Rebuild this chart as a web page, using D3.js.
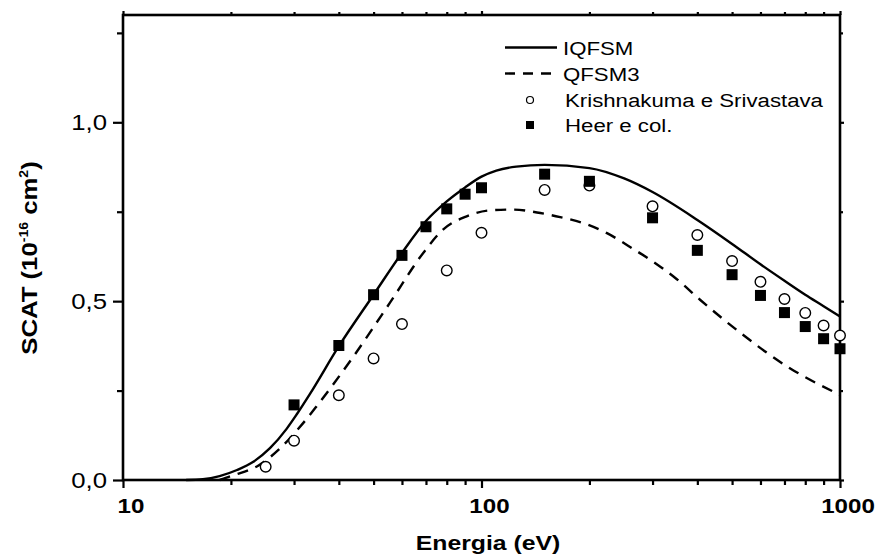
<!DOCTYPE html>
<html><head><meta charset="utf-8">
<script src="https://cdn.jsdelivr.net/npm/d3@7"></script>
<style>body{margin:0;background:#fff}svg{display:block}</style>
</head><body>
<script>
// ---- data ----
const iqfsmE = [15, 16.7, 18.6, 20.8, 23.1, 25.7, 28.6, 30.5, 33.2, 40, 50, 60, 70, 80, 90, 100, 110, 125, 150, 200, 250, 300, 400, 500, 600, 700, 800, 900, 1000];
const iqfsmV = [0, 0.002, 0.011, 0.028, 0.051, 0.089, 0.143, 0.183, 0.240, 0.374, 0.518, 0.635, 0.724, 0.779, 0.818, 0.848, 0.865, 0.876, 0.881, 0.872, 0.843, 0.805, 0.727, 0.660, 0.603, 0.557, 0.518, 0.486, 0.457];
const qfsm3E = [18.6, 20.3, 24, 27.4, 31.8, 34.6, 43.9, 55.5, 68.7, 78.1, 90.9, 105.9, 123, 142.8, 165.8, 192.7, 223.9, 265, 307.5, 350, 407, 528, 713, 1000];
const qfsm3V = [0, 0.013, 0.042, 0.088, 0.159, 0.205, 0.345, 0.495, 0.634, 0.700, 0.737, 0.754, 0.756, 0.748, 0.735, 0.718, 0.690, 0.646, 0.604, 0.562, 0.504, 0.411, 0.317, 0.238];
const krishE = [25, 30, 40, 50, 60, 80, 100, 150, 200, 300, 400, 500, 600, 700, 800, 900, 1000];
const krishV = [0.037, 0.11, 0.237, 0.34, 0.436, 0.586, 0.691, 0.811, 0.823, 0.765, 0.685, 0.612, 0.554, 0.506, 0.467, 0.432, 0.404];
const heerE = [30, 40, 50, 60, 70, 80, 90, 100, 150, 200, 300, 400, 500, 600, 700, 800, 900, 1000];
const heerV = [0.21, 0.376, 0.518, 0.628, 0.708, 0.758, 0.799, 0.817, 0.855, 0.835, 0.733, 0.642, 0.574, 0.516, 0.468, 0.429, 0.395, 0.367];
const xMajor = [10, 100, 1000];
const xMinor = [20,30,40,50,60,70,80,90,200,300,400,500,600,700,800,900];
const yMajor = [0, 0.5, 1.0];
const yMinor = [0.25, 0.75, 1.25];
const yLabels = ["0,0", "0,5", "1,0"];
const seriesNames = ["IQFSM", "QFSM3", "Krishnakuma e Srivastava", "Heer e col."];

const W = 878, H = 559;
const svg = d3.select("body").append("svg").attr("width", W).attr("height", H);
const x = d3.scaleLog().domain([10, 1000]).range([123, 840]);
const y = d3.scaleLinear().domain([0, 1.3]).range([480, 15]);
const FONT = "Liberation Sans, Arial, Helvetica, sans-serif";

// axes ticks
function ax(gen, tv, size, tr) {
  const g = svg.append("g").attr("transform", tr).call(gen.tickValues(tv).tickSize(size).tickFormat(""));
  g.select(".domain").remove();
  g.selectAll("line").attr("stroke", "#000").attr("stroke-width", 2.2);
  return g;
}
ax(d3.axisBottom(x), xMajor, 8, "translate(0,480)");
ax(d3.axisBottom(x), xMinor, 5, "translate(0,480)");
ax(d3.axisTop(x), xMajor, 4, "translate(0,15)");
ax(d3.axisTop(x), xMinor, 3, "translate(0,15)");
ax(d3.axisLeft(y), yMajor, 10, "translate(123,0)");
ax(d3.axisLeft(y), yMinor, 6, "translate(123,0)");
ax(d3.axisRight(y), yMajor, 4, "translate(840,0)");
ax(d3.axisRight(y), yMinor, 3, "translate(840,0)");

svg.append("rect").attr("x", 123).attr("y", 15).attr("width", 840 - 123).attr("height", 480 - 15)
  .attr("fill", "none").attr("stroke", "#000").attr("stroke-width", 2.6);

// tick labels
xMajor.forEach(v => {
  svg.append("text").attr("transform", `translate(${x(v) + 8},513) scale(1.15,1)`)
    .attr("text-anchor", "middle").attr("font-family", FONT).attr("font-weight", "bold")
    .attr("font-size", 21).text(v);
});
yMajor.forEach((v, i) => {
  svg.append("text").attr("transform", `translate(107,${y(v) + 8}) scale(1.17,1)`)
    .attr("text-anchor", "end").attr("font-family", FONT)
    .attr("font-size", 22).text(yLabels[i]);
});

// axis titles
svg.append("text").attr("transform", "translate(488,550) scale(1.18,1)")
  .attr("text-anchor", "middle").attr("font-family", FONT).attr("font-weight", "bold")
  .attr("font-size", 21).text("Energia (eV)");
const yt = svg.append("text").attr("transform", "translate(37,258) rotate(-90) scale(1.17,1)")
  .attr("text-anchor", "middle").attr("font-family", FONT).attr("font-weight", "bold")
  .attr("font-size", 22);
yt.append("tspan").text("SCAT (10");
yt.append("tspan").attr("font-size", 12).attr("dy", -9).text("-16");
yt.append("tspan").attr("dy", 9).text(" cm");
yt.append("tspan").attr("font-size", 12).attr("dy", -9).text("2");
yt.append("tspan").attr("dy", 9).text(")");

// curves
const line = d3.line().x(d => x(d[0])).y(d => y(d[1])).curve(d3.curveMonotoneX);
svg.append("path").datum(iqfsmE.map((e, i) => [e, iqfsmV[i]])).attr("d", line)
  .attr("fill", "none").attr("stroke", "#000").attr("stroke-width", 2.4);
svg.append("path").datum(qfsm3E.map((e, i) => [e, qfsm3V[i]])).attr("d", line)
  .attr("fill", "none").attr("stroke", "#000").attr("stroke-width", 2.4).attr("stroke-dasharray", "11,8");

// markers
svg.append("g").selectAll("circle").data(krishE.map((e, i) => [e, krishV[i]])).join("circle")
  .attr("cx", d => x(d[0])).attr("cy", d => y(d[1])).attr("r", 5.3)
  .attr("fill", "#fff").attr("stroke", "#000").attr("stroke-width", 1.4);
svg.append("g").selectAll("rect").data(heerE.map((e, i) => [e, heerV[i]])).join("rect")
  .attr("x", d => x(d[0]) - 5.5).attr("y", d => y(d[1]) - 5.5).attr("width", 11).attr("height", 11)
  .attr("fill", "#000");

// legend
const lg = svg.append("g");
const rows = [54.5, 80.5, 107, 132];
lg.append("line").attr("x1", 505).attr("x2", 557).attr("y1", rows[0] - 7).attr("y2", rows[0] - 7)
  .attr("stroke", "#000").attr("stroke-width", 2.4);
lg.append("line").attr("x1", 505).attr("x2", 557).attr("y1", rows[1] - 7).attr("y2", rows[1] - 7)
  .attr("stroke", "#000").attr("stroke-width", 2.4).attr("stroke-dasharray", "10,8");
lg.append("circle").attr("cx", 530).attr("cy", rows[2] - 7).attr("r", 3.5)
  .attr("fill", "#fff").attr("stroke", "#000").attr("stroke-width", 1.2);
lg.append("rect").attr("x", 526).attr("y", rows[3] - 11).attr("width", 8).attr("height", 8).attr("fill", "#000");
seriesNames.forEach((s, i) => {
  lg.append("text").attr("transform", `translate(${i < 2 ? 563 : 565},${rows[i]}) scale(1.17,1)`)
    .attr("font-family", FONT).attr("font-size", 19).text(s);
});
</script>
</body></html>
